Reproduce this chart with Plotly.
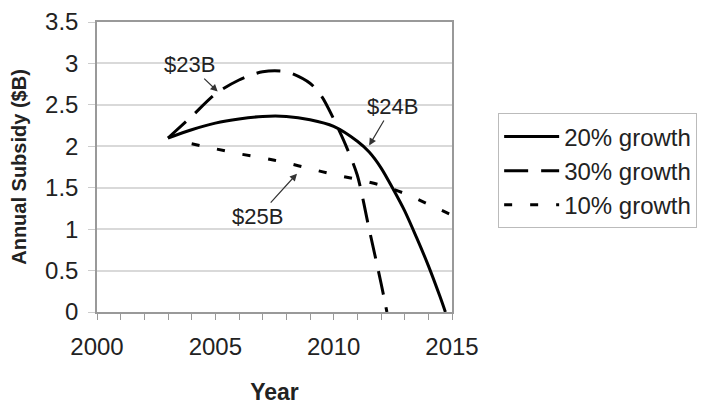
import plotly.graph_objects as go

years_20 = [2003, 2004, 2005, 2006, 2007, 2008, 2009, 2010, 2011, 2011.5, 2012, 2012.5, 2013, 2013.5, 2014, 2014.5, 2014.72]
sub_20 = [2.1, 2.2, 2.28, 2.33, 2.36, 2.36, 2.32, 2.24, 2.06, 1.93, 1.74, 1.49, 1.22, 0.9, 0.56, 0.18, 0.0]

years_30 = [2003, 2004, 2005, 2006, 2007, 2008, 2009, 2009.5, 2010, 2010.5, 2011, 2011.5, 2012, 2012.25]
sub_30 = [2.1, 2.36, 2.63, 2.8, 2.9, 2.9, 2.76, 2.6, 2.33, 2.02, 1.65, 1.0, 0.35, 0.0]

years_10 = [2004, 2005, 2006, 2007, 2008, 2009, 2010, 2011, 2012, 2013, 2014, 2015]
sub_10 = [2.03, 1.97, 1.91, 1.86, 1.8, 1.73, 1.66, 1.6, 1.53, 1.43, 1.3, 1.17]

series_names = ["20% growth", "30% growth", "10% growth"]

labels = ["$23B", "$24B", "$25B"]
label_x = [2005.1, 2011.5, 2008.45]
label_y = [2.66, 2.01, 1.67]

FONT = "Liberation Sans, Arial, sans-serif"

fig = go.Figure()
fig.add_trace(go.Scatter(x=years_20, y=sub_20, name=series_names[0], mode="lines",
                         line=dict(color="black", width=3, shape="spline", smoothing=0.8)))
fig.add_trace(go.Scatter(x=years_30, y=sub_30, name=series_names[1], mode="lines",
                         line=dict(color="black", width=3, shape="spline", smoothing=0.8, dash="24px,13px")))
fig.add_trace(go.Scatter(x=years_10, y=sub_10, name=series_names[2], mode="lines",
                         line=dict(color="black", width=3, shape="spline", smoothing=0.8, dash="8px,18px")))

offsets = [(-28, -27), (23, -39), (-39, 43)]
for t, xx, yy, (ax, ay) in zip(labels, label_x, label_y, offsets):
    fig.add_annotation(x=xx, y=yy, text=t, showarrow=True, ax=ax, ay=ay,
                       arrowhead=2, arrowsize=1.2, arrowwidth=1.2, arrowcolor="#333",
                       font=dict(size=22, color="#222", family=FONT))

fig.update_layout(
    width=720, height=405,
    margin=dict(l=89, r=276, t=14, b=101),
    plot_bgcolor="white", paper_bgcolor="white",
    font=dict(family=FONT, size=23, color="#222"),
    legend=dict(x=1.13, y=0.685, xanchor="left", yanchor="top",
                bordercolor="#bbb", borderwidth=1, font=dict(size=24),
                itemwidth=55, tracegroupgap=0),
    xaxis=dict(range=[2000, 2015], dtick=5, tick0=2000, showgrid=False, automargin=False,
               showline=True, linecolor="#999", linewidth=1.5, mirror=True,
               ticks="outside", ticklen=6, tickcolor="#999", ticklabelstandoff=6,
               ticklabeloverflow="allow",
               minor=dict(dtick=1, ticks="outside", ticklen=6, tickcolor="#999", showgrid=False),
               title=dict(text="<b>Year</b>", font=dict(size=23), standoff=25),
               tickfont=dict(size=24)),
    yaxis=dict(range=[0, 3.5], dtick=0.5, showgrid=True, gridcolor="#d9d9d9", gridwidth=1.5,
               showline=True, linecolor="#999", linewidth=1.5, mirror=True, automargin=False,
               ticks="outside", ticklen=7, tickcolor="#ccc", zeroline=False, ticklabelstandoff=5,
               ticklabeloverflow="allow",
               title=dict(text="<b>Annual Subsidy ($B)</b>", font=dict(size=20), standoff=17),
               tickfont=dict(size=24)),
)

fig.write_html("out.html")
